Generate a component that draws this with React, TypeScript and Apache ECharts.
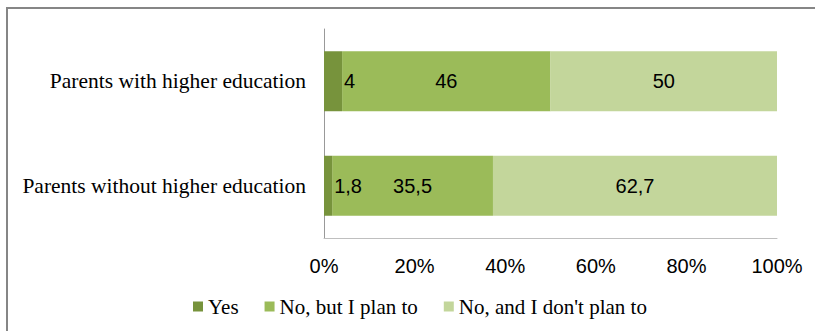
import React, { useEffect, useRef } from "react";
import * as echarts from "echarts";

const categories = ["Parents without higher education", "Parents with higher education"];
const seriesNames = ["Yes", "No, but I plan to", "No, and I don't plan to"];
const yesValues = [1.8, 4];
const planValues = [35.5, 46];
const noPlanValues = [62.7, 50];
const xTicks = [0, 20, 40, 60, 80, 100];

const colors = ["#77933C", "#9BBB59", "#C3D69B"];
const SERIF = "Liberation Serif";
const SANS = "Liberation Sans";

function fmt(v: number) {
  return String(v).replace(".", ",");
}

export default function App() {
  const ref = useRef<HTMLDivElement>(null);
  useEffect(() => {
    if (!ref.current) return;
    const chart = echarts.init(ref.current, undefined, { renderer: "svg" });
    const dataSets = [yesValues, planValues, noPlanValues];
    chart.setOption({
      animation: false,
      textStyle: { fontFamily: SERIF },
      graphic: [
        {
          type: "rect",
          shape: { x: 7, y: 8, width: 900, height: 400 },
          style: { fill: "none", stroke: "#868686", lineWidth: 2 },
          silent: true,
        },
      ],
      grid: { left: 324, right: 38, top: 29, bottom: 93, containLabel: false },
      legend: {
        bottom: 14,
        left: 193,
        padding: 0,
        itemWidth: 10,
        itemHeight: 10,
        itemGap: 26,
        icon: "rect",
        data: seriesNames,
        textStyle: { fontFamily: SERIF, fontSize: 21, color: "#000" },
      },
      xAxis: {
        type: "value",
        min: 0,
        max: 100,
        interval: 20,
        axisLine: { show: true, lineStyle: { color: "#BFBFBF", width: 1 } },
        axisTick: { show: false },
        splitLine: { show: false },
        axisLabel: {
          formatter: (v: number) => (xTicks.includes(v) ? v + "%" : ""),
          fontFamily: SANS,
          fontSize: 20,
          color: "#000",
          margin: 18,
        },
      },
      yAxis: {
        type: "category",
        data: categories,
        axisLine: { show: true, lineStyle: { color: "#999", width: 1 } },
        axisTick: { show: false },
        axisLabel: { fontFamily: SERIF, fontSize: 21.5, color: "#000", margin: 18 },
      },
      series: seriesNames.map((name, i) => ({
        name,
        type: "bar",
        stack: "total",
        barWidth: 60,
        z: i === 0 ? 5 : 2,
        itemStyle: { color: colors[i] },
        data: dataSets[i],
        label: {
          show: true,
          position: i === 0 ? "right" : "inside",
          distance: 2,
          formatter: (p: any) => fmt(p.value),
          fontFamily: SANS,
          fontSize: 20,
          color: "#000",
        },
      })),
    });
    return () => chart.dispose();
  }, []);
  return (
    <div
      ref={ref}
      style={{ position: "fixed", left: 0, top: 0, width: 815, height: 331, background: "#fff" }}
    />
  );
}
